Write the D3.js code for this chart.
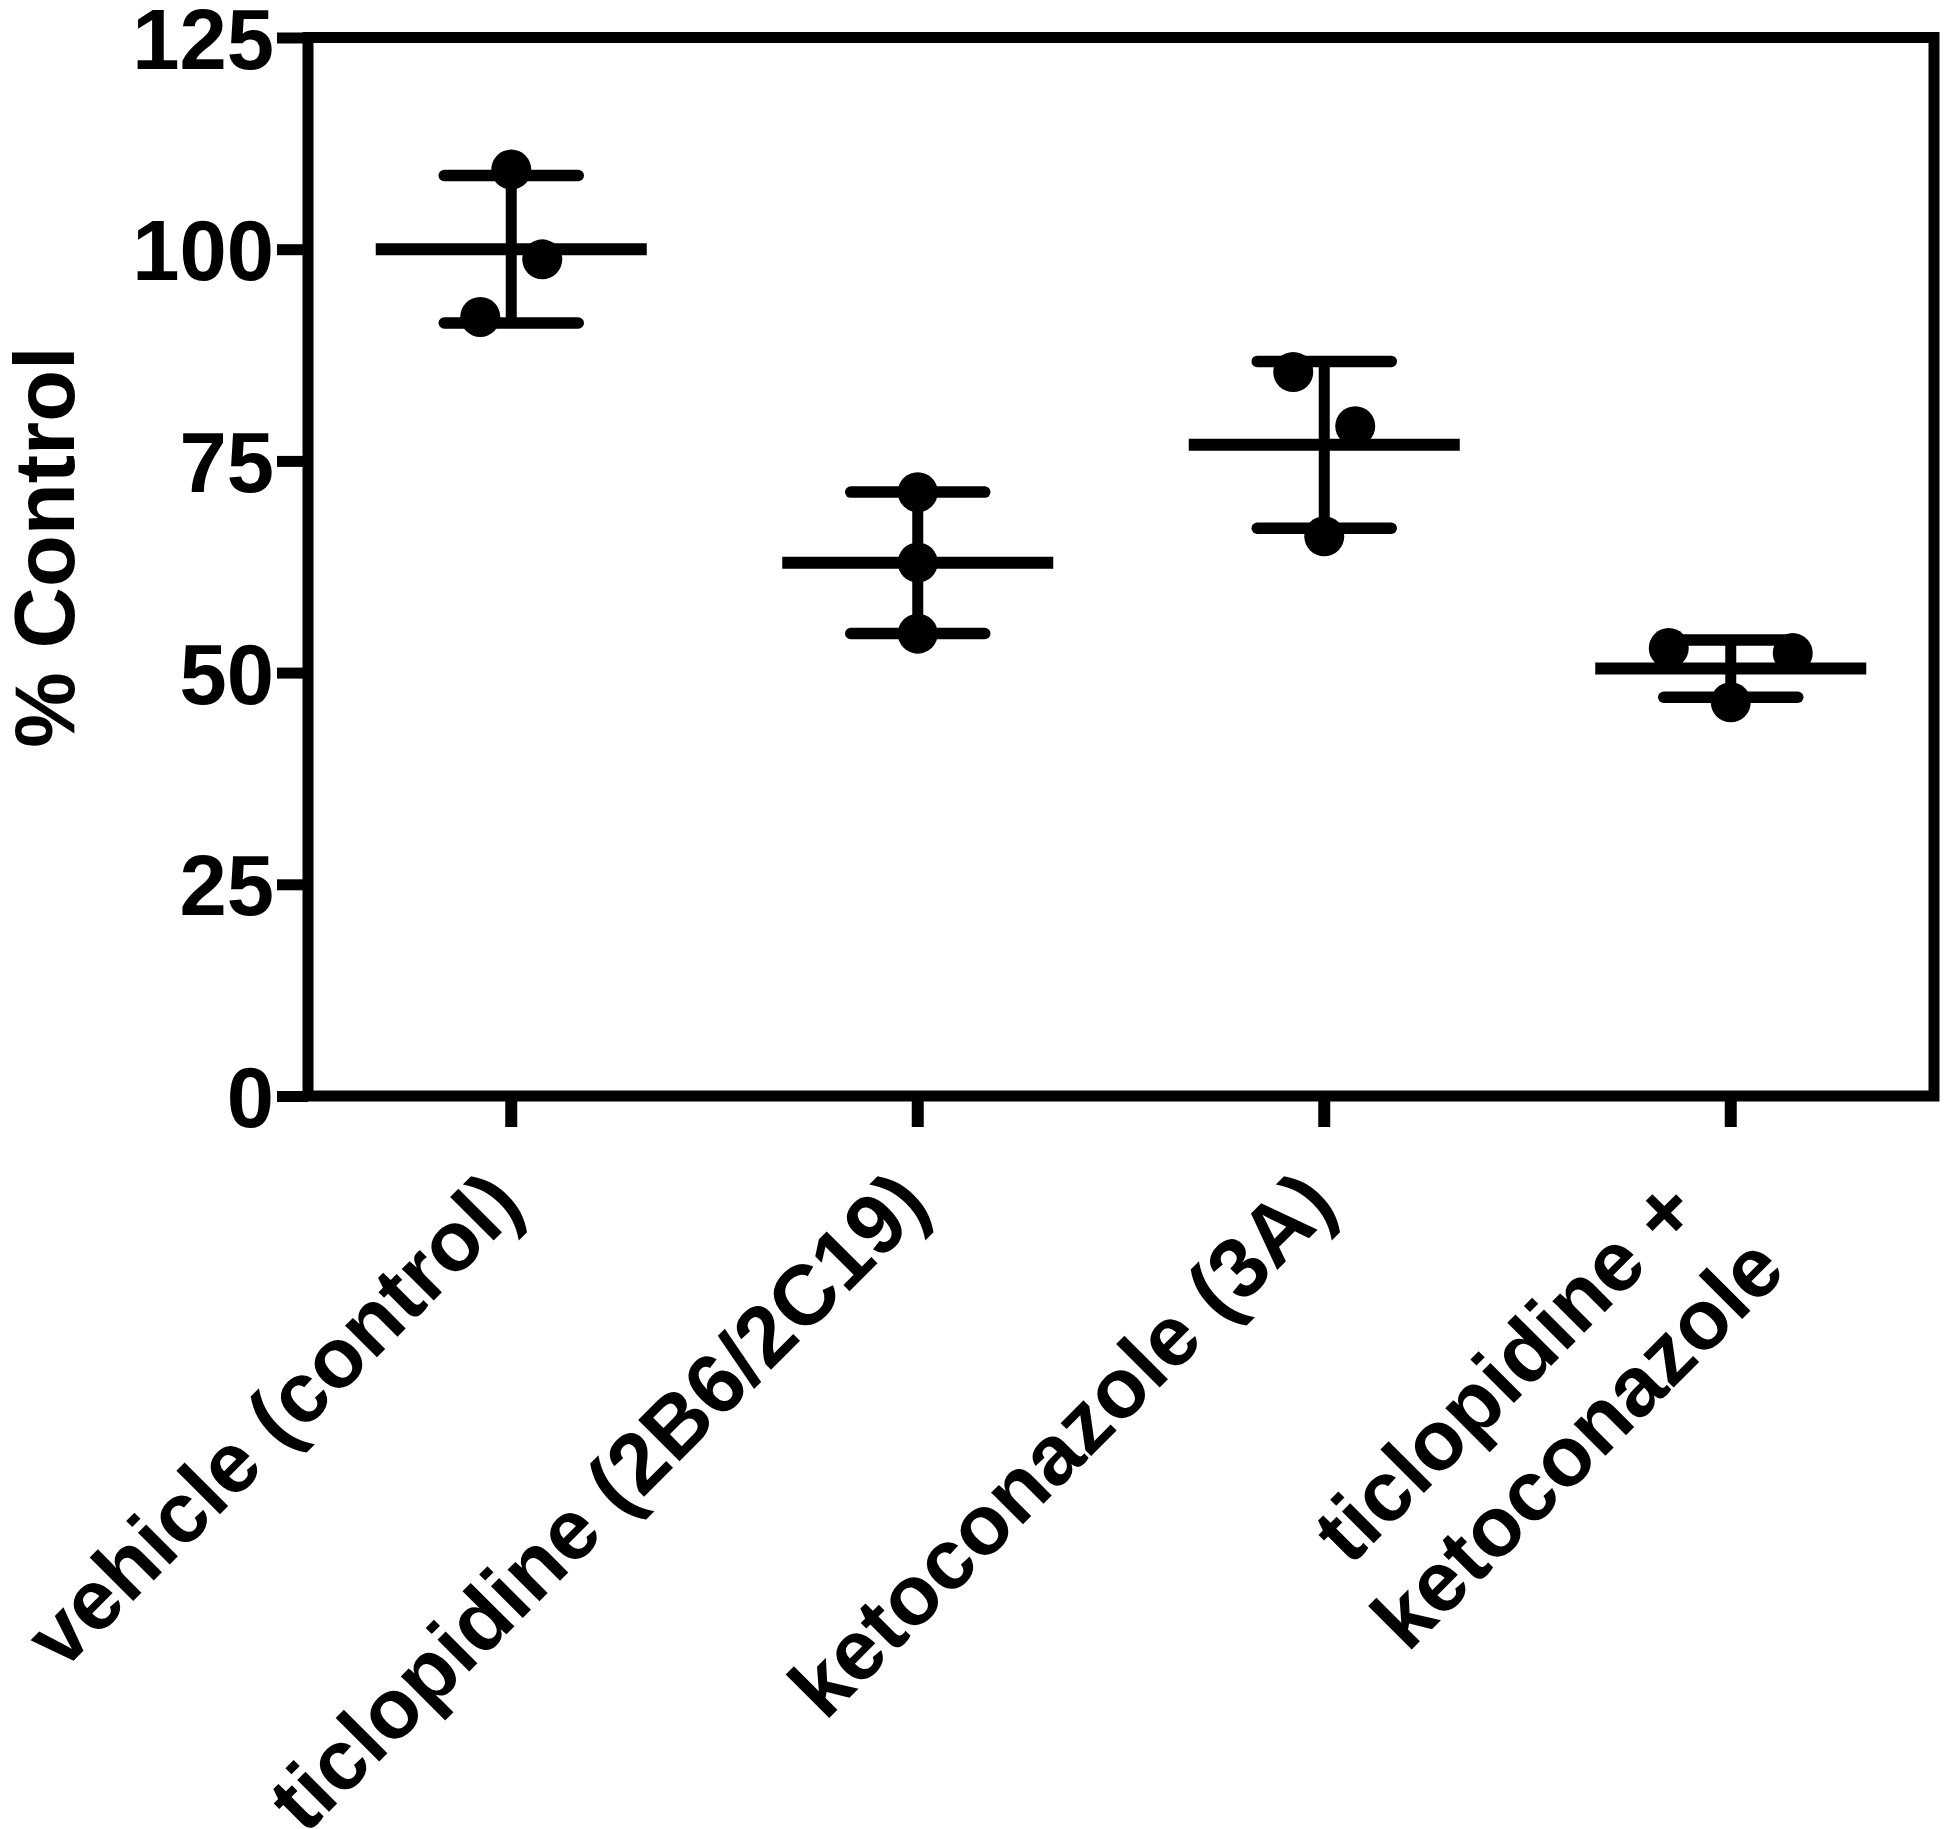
<!DOCTYPE html>
<html>
<head>
<meta charset="utf-8">
<script src="https://cdn.jsdelivr.net/npm/d3@7/dist/d3.min.js"></script>
<style>
  html, body { margin: 0; padding: 0; background: #fff; }
  svg { display: block; }
  text { font-family: "Liberation Sans", Arial, Helvetica, sans-serif; font-weight: bold; fill: #000; }
</style>
</head>
<body>
<script>
// ---- data ----
const categoryLines = [
  ["vehicle (control)"],
  ["ticlopidine (2B6/2C19)"],
  ["ketoconazole (3A)"],
  ["ticlopidine +", "ketoconazole"]
];
const replicates = [
  [109.4, 98.8, 92.0],
  [71.3, 63.0, 54.6],
  [85.5, 79.1, 66.1],
  [52.9, 52.3, 46.5]
];
const means = [100.0, 62.97, 76.9, 50.47];
const sds = [8.71, 8.35, 9.85, 3.38];
const yTicks = [0, 25, 50, 75, 100, 125];
const yLabel = "% Control";
// horizontal scatter slot of each replicate (in marker-spacing steps)
const scatterSlot = [
  [0, 1, -1],
  [0, 0, 0],
  [-1, 1, 0],
  [-2, 2, 0]
];

(function () {
  // ---- layout ----
  const W = 1950, H = 1829;
  const plotLeft = 308, plotRight = 1934, plotTop = 37.5, plotBottom = 1096;
  const fontSize = 85;
  const axisW = 11;

  const svg = d3.select("body").append("svg")
    .attr("width", W).attr("height", H)
    .attr("viewBox", `0 0 ${W} ${H}`);

  const x = d3.scaleBand().domain(d3.range(categoryLines.length)).range([plotLeft, plotRight]);
  const y = d3.scaleLinear().domain([0, 125]).range([plotBottom, plotTop]);
  const xc = i => x(i) + x.bandwidth() / 2;

  // frame
  svg.append("rect")
    .attr("x", plotLeft).attr("y", plotTop)
    .attr("width", plotRight - plotLeft).attr("height", plotBottom - plotTop)
    .attr("fill", "none").attr("stroke", "#000").attr("stroke-width", axisW);

  // y axis
  const gy = svg.append("g")
    .attr("transform", `translate(${plotLeft},0)`)
    .call(d3.axisLeft(y).tickValues(yTicks).tickSize(31).tickPadding(3).tickFormat(d3.format("d")));
  gy.attr("font-size", null).attr("font-family", null);
  gy.select(".domain").remove();
  gy.selectAll(".tick line").attr("stroke", "#000").attr("stroke-width", axisW);
  gy.selectAll(".tick text")
    .attr("font-size", fontSize)
    .attr("fill", "#000")
    .attr("dy", "0.36em");

  // x axis ticks
  const gx = svg.append("g")
    .attr("transform", `translate(0,${plotBottom})`)
    .call(d3.axisBottom(x).tickSize(31).tickFormat(""));
  gx.select(".domain").remove();
  gx.selectAll(".tick line").attr("stroke", "#000").attr("stroke-width", 12);

  // x labels rotated -45
  const lineH = fontSize * 1.2;
  categoryLines.forEach((lines, i) => {
    const g = svg.append("g")
      .attr("transform", `translate(${xc(i) + 15},${plotBottom + 112}) rotate(-45)`);
    const n = lines.length;
    if (n === 1) {
      g.append("text")
        .attr("text-anchor", "end")
        .attr("font-size", fontSize)
        .text(lines[0]);
    } else {
      const texts = lines.map((t, k) => g.append("text")
        .attr("text-anchor", "middle")
        .attr("font-size", fontSize)
        .attr("y", (k - (n - 1) / 2) * lineH + (n - 1) * 25)
        .text(t));
      const maxLen = d3.max(texts, t => t.node().getComputedTextLength());
      const cx = -16 * (n - 1) - maxLen / 2;
      texts.forEach(t => t.attr("x", cx));
    }
  });

  // y axis title
  svg.append("text")
    .attr("transform", `translate(74,547) rotate(-90)`)
    .attr("text-anchor", "middle")
    .attr("font-size", fontSize)
    .text(yLabel);

  // error bars (mean ± SD) and mean lines
  const capHalf = 67, meanHalf = 135.5;
  const gb = svg.append("g");
  means.forEach((m, i) => {
    const cx = xc(i);
    const lo = y(m - sds[i]), hi = y(m + sds[i]);
    gb.append("line")
      .attr("x1", cx).attr("x2", cx).attr("y1", lo).attr("y2", hi)
      .attr("stroke", "#000").attr("stroke-width", 11);
    [lo, hi].forEach(yy => gb.append("line")
      .attr("x1", cx - capHalf).attr("x2", cx + capHalf)
      .attr("y1", yy).attr("y2", yy)
      .attr("stroke", "#000").attr("stroke-width", 11.5)
      .attr("stroke-linecap", "round"));
    gb.append("line")
      .attr("x1", cx - meanHalf).attr("x2", cx + meanHalf)
      .attr("y1", y(m)).attr("y2", y(m))
      .attr("stroke", "#000").attr("stroke-width", 12);
  });

  // points
  const r = 20, step = 31;
  const pts = [];
  replicates.forEach((vals, i) => vals.forEach((v, k) => pts.push({ i, v, s: scatterSlot[i][k] })));
  svg.append("g").selectAll("circle")
    .data(pts).join("circle")
    .attr("cx", d => xc(d.i) + d.s * step)
    .attr("cy", d => y(d.v))
    .attr("r", r)
    .attr("fill", "#000");
})();
</script>
</body>
</html>
